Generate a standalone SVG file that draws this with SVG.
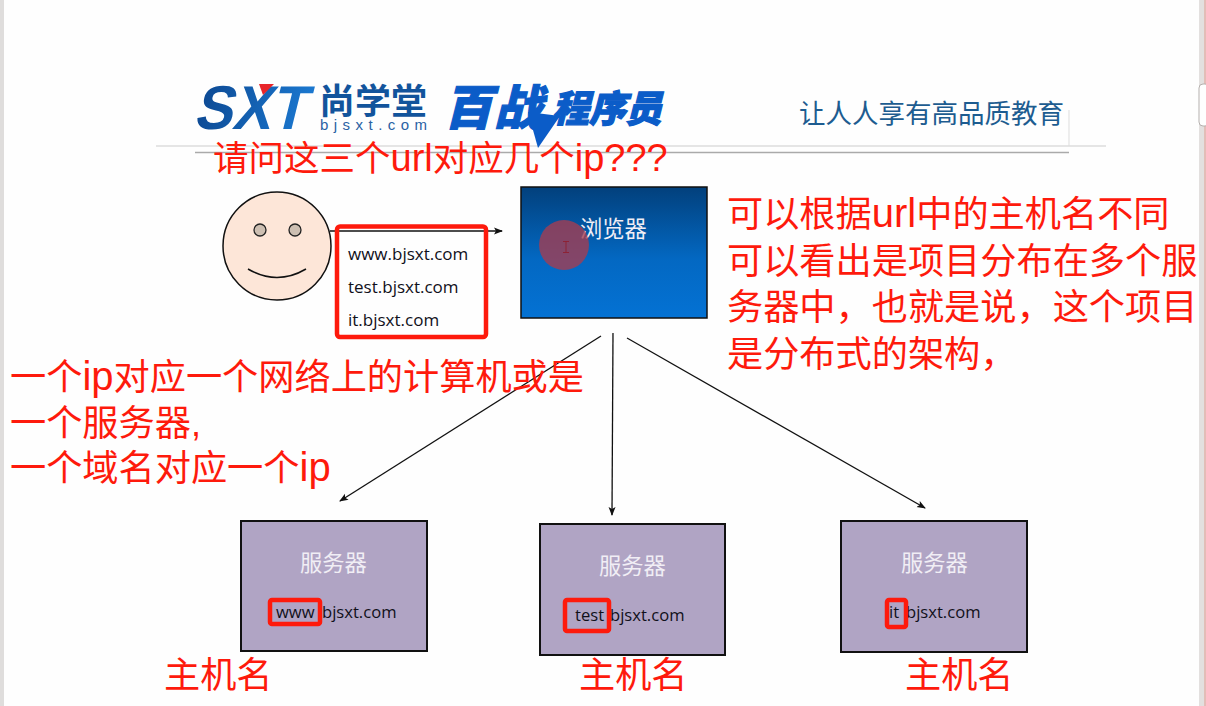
<svg xmlns="http://www.w3.org/2000/svg" width="1206" height="706" viewBox="0 0 1206 706">
<style>
.cn{font-family:"Liberation Sans","Noto Sans CJK SC",sans-serif}
.red{fill:#fe1a0c;font-size:36.2px}
.lat{font-size:40px}
.url{fill:#10101a;font-size:17px;font-family:"Open Sans","Liberation Sans",sans-serif}
.sm{font-size:16.600px}
.white{fill:#f1eef5;font-size:22.300px}
.srv{fill:#b0a4c4;stroke:#111;stroke-width:2}
.hl{fill:none;stroke:#fe1a0c;stroke-width:4.500}
.cn-line{fill:none;stroke:#111;stroke-width:1.3}
</style>
<defs>
<linearGradient id="blue" x1="0" y1="0" x2="0" y2="1"><stop offset="0" stop-color="#02407c"/><stop offset=".55" stop-color="#0368c2"/><stop offset="1" stop-color="#0472d4"/></linearGradient>
<linearGradient id="sx" x1="0" y1="0" x2="1" y2="0"><stop offset="0" stop-color="#0d4a94"/><stop offset="1" stop-color="#1b78d0"/></linearGradient>
<marker id="arr" markerWidth="10" markerHeight="8" refX="8" refY="4" orient="auto" markerUnits="userSpaceOnUse"><path d="M0,0.5L9,4L0,7.5L2,4Z" fill="#111"/></marker>
</defs>
<rect width="1206" height="706" fill="#fefefe"/>
<rect x="0" y="0" width="4" height="706" fill="#dfdddc"/>
<rect x="1199" y="0" width="7" height="706" fill="#e3e0df"/>
<line x1="1205" y1="0" x2="1205" y2="706" stroke="#e39a90" stroke-width="1"/>
<rect x="1199" y="84" width="10" height="42" rx="4" fill="#fefefe" stroke="#b5b0ae"/>

<g id="header">
<line x1="156" y1="146" x2="1106" y2="146" stroke="#dcdcdc" stroke-width="1.5"/>
<line x1="195" y1="152.500" x2="1069" y2="152.500" stroke="#aaa" stroke-width="1.5"/>
<line x1="1069" y1="110" x2="1069" y2="146" stroke="#ddd"/>
<text transform="translate(193,129) skewX(-14)" font-family="Liberation Sans,sans-serif" font-weight="700" font-size="62" fill="url(#sx)" textLength="112" lengthAdjust="spacingAndGlyphs">SXT</text>
<path d="M259,84H274L263,95Z" fill="#e8252a"/>
<text x="319" y="114" class="cn" font-size="35" font-weight="700" fill="#12549c" textLength="108" lengthAdjust="spacingAndGlyphs">尚学堂</text>
<text x="320" y="130" font-family="Liberation Sans,sans-serif" font-size="15" fill="#2a62a4" textLength="107">bjsxt.com</text>
<path d="M528,112L538,148L560,116Z" fill="#0b5cc8"/>
<text y="125" class="cn" font-weight="900" font-style="italic" fill="#0b5cc8" stroke="#0b5cc8" stroke-width="1.2"><tspan x="444 494" font-size="48">百战</tspan><tspan x="552 589 625" y="122" font-size="37">程序员</tspan></text>
<text x="799" y="123" class="cn" font-size="26.500" fill="#1d5c90" textLength="265" lengthAdjust="spacingAndGlyphs">让人人享有高品质教育</text>
</g>

<g id="connectors">
<line x1="330" y1="231" x2="502" y2="231" class="cn-line" marker-end="url(#arr)"/>
<line x1="601" y1="336" x2="340" y2="501" class="cn-line" marker-end="url(#arr)"/>
<line x1="613" y1="333" x2="612" y2="515" class="cn-line" marker-end="url(#arr)"/>
<line x1="627" y1="338" x2="925" y2="508" class="cn-line" marker-end="url(#arr)"/>
</g>

<g id="person">
<circle cx="277" cy="246" r="54" fill="#fde6d8" stroke="#111" stroke-width="1.5"/>
<circle cx="260" cy="230" r="6" fill="#cdbfb2" stroke="#222" stroke-width="1.3"/>
<circle cx="295" cy="230" r="6" fill="#cdbfb2" stroke="#222" stroke-width="1.3"/>
<path d="M248,269Q277,286 306,269" fill="none" stroke="#111" stroke-width="1.5"/>
</g>

<g id="urls">
<rect x="337" y="226.500" width="149" height="110.500" rx="3" class="hl"/>
<text x="348" y="260" class="url">www.bjsxt.com</text>
<text x="348" y="293" class="url">test.bjsxt.com</text>
<text x="348" y="326" class="url">it.bjsxt.com</text>
</g>

<g id="browser">
<rect x="521" y="187" width="186" height="131" fill="url(#blue)" stroke="#111" stroke-width="1.5"/>
<text x="580" y="237" class="cn white">浏览器</text>
<circle cx="564" cy="245" r="25" fill="#a83c50" fill-opacity=".78"/>
<path d="M563,241.500h6M566,241.500v11M563,252.500h6" fill="none" stroke="#8d2235" stroke-width="1"/>
</g>

<g id="server1">
<rect x="241" y="521" width="186" height="130" class="srv"/>
<text x="300" y="571" class="cn white">服务器</text>
<text x="276" y="618" class="url sm">www</text>
<text x="322" y="618" class="url sm">bjsxt.com</text>
<rect x="270" y="600" width="50" height="24" rx="2" class="hl"/>
</g>
<g id="server2">
<rect x="540" y="524" width="185" height="131" class="srv"/>
<text x="599" y="574" class="cn white">服务器</text>
<text x="575" y="621" class="url sm">test</text>
<text x="610" y="621" class="url sm">bjsxt.com</text>
<rect x="565" y="600" width="44" height="31" rx="2" class="hl"/>
</g>
<g id="server3">
<rect x="841" y="521" width="186" height="131" class="srv"/>
<text x="901" y="571" class="cn white">服务器</text>
<text x="889" y="618" class="url sm">it</text>
<text x="906" y="618" class="url sm">bjsxt.com</text>
<rect x="887" y="600" width="19" height="27" rx="2" class="hl"/>
</g>

<g id="notes" class="cn">
<text x="213" y="171" class="red" style="font-size:35.500px">请问这三个<tspan style="font-size:38px">url</tspan>对应几个<tspan style="font-size:38px">ip???</tspan></text>
<text x="727" y="227" class="red">可以根据<tspan class="lat">url</tspan>中的主机名不同</text>
<text x="727" y="274" class="red">可以看出是项目分布在多个服</text>
<text x="727" y="320" class="red">务器中，也就是说，这个项目</text>
<text x="727" y="367" class="red">是分布式的架构，</text>
<text x="10" y="390" class="red">一个<tspan class="lat">ip</tspan>对应一个网络上的计算机或是</text>
<text x="10" y="436" class="red">一个服务器,</text>
<text x="10" y="481" class="red">一个域名对应一个<tspan class="lat">ip</tspan></text>
<text x="164" y="688" class="red">主机名</text>
<text x="579" y="688" class="red">主机名</text>
<text x="905" y="688" class="red">主机名</text>
</g>
</svg>
